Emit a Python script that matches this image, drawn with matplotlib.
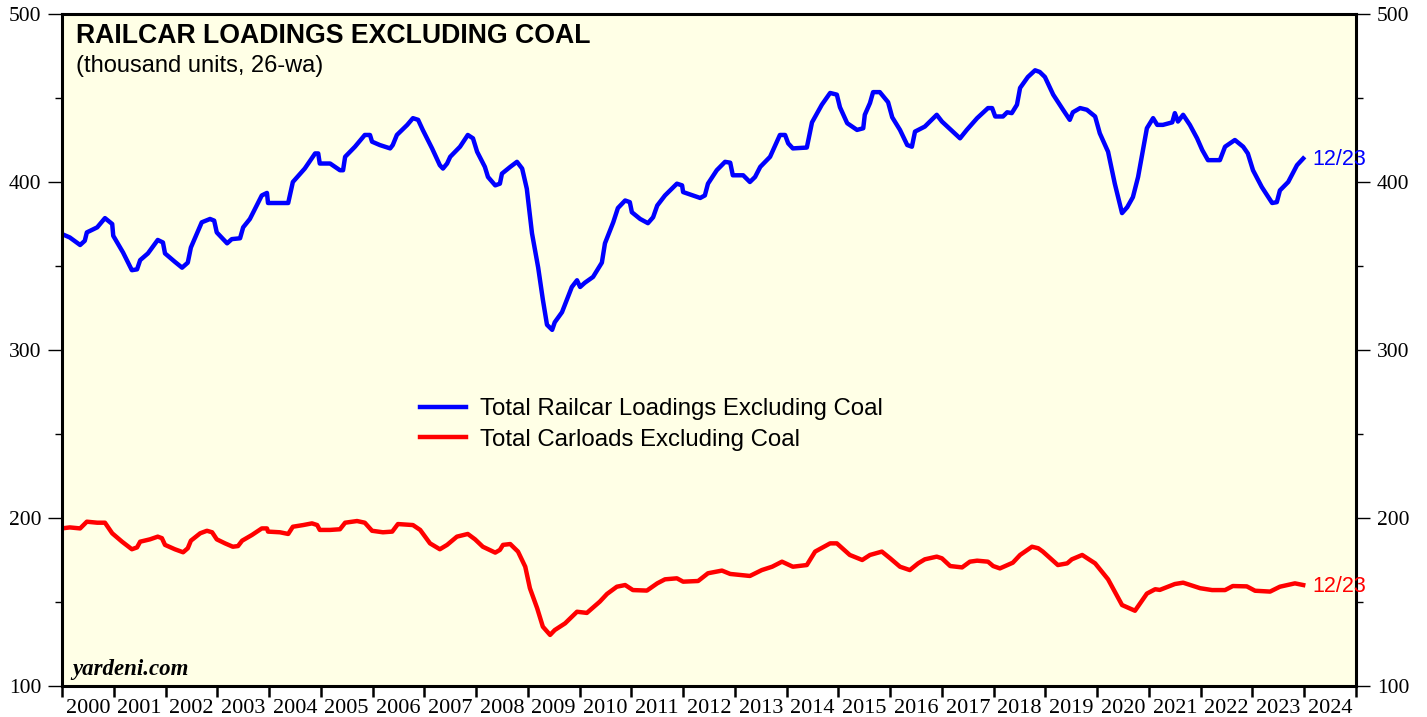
import matplotlib
matplotlib.use("Agg")
import matplotlib.pyplot as plt
from matplotlib.ticker import MultipleLocator, NullFormatter, FixedLocator, FixedFormatter

# Total railcar loadings excluding coal (thousand units, 26-wa)
anos_total = [
    2000.00, 2000.15, 2000.35, 2000.44, 2000.48, 2000.68, 2000.83, 2000.97, 2000.99,
    2001.18, 2001.35, 2001.45, 2001.51, 2001.66, 2001.85, 2001.95, 2001.99,
    2002.18, 2002.32, 2002.43, 2002.49, 2002.70, 2002.86, 2002.94, 2002.99,
    2003.19, 2003.28, 2003.44, 2003.50, 2003.63, 2003.86, 2003.96, 2003.98,
    2004.21, 2004.37, 2004.46, 2004.69, 2004.89, 2004.95, 2004.98,
    2005.18, 2005.37, 2005.43, 2005.47, 2005.66, 2005.85, 2005.95, 2005.99,
    2006.14, 2006.34, 2006.39, 2006.47, 2006.67, 2006.78, 2006.88, 2006.97,
    2007.15, 2007.30, 2007.36, 2007.44, 2007.50, 2007.69, 2007.84, 2007.94,
    2008.02, 2008.17, 2008.23, 2008.37, 2008.46, 2008.50, 2008.66, 2008.79, 2008.89, 2008.98,
    2009.08, 2009.20, 2009.29, 2009.37, 2009.47, 2009.52, 2009.66, 2009.85, 2009.95,
    2010.01, 2010.10, 2010.26, 2010.43, 2010.49, 2010.65, 2010.74, 2010.88, 2010.97,
    2011.01, 2011.17, 2011.32, 2011.42, 2011.50, 2011.65, 2011.88, 2011.98,
    2012.00, 2012.19, 2012.33, 2012.42, 2012.48, 2012.65, 2012.81, 2012.91, 2012.96,
    2013.16, 2013.29, 2013.39, 2013.49, 2013.68, 2013.87, 2013.97,
    2014.03, 2014.12, 2014.39, 2014.49, 2014.68, 2014.84, 2014.97,
    2015.03, 2015.17, 2015.36, 2015.48, 2015.51, 2015.61, 2015.67, 2015.80, 2015.96,
    2016.04, 2016.19, 2016.33, 2016.42, 2016.48, 2016.67, 2016.90,
    2017.00, 2017.35, 2017.48, 2017.68, 2017.89, 2017.97,
    2018.03, 2018.18, 2018.26, 2018.35, 2018.45, 2018.51, 2018.66, 2018.80, 2018.89, 2018.99,
    2019.15, 2019.34, 2019.47, 2019.53, 2019.67, 2019.80, 2019.96,
    2020.05, 2020.21, 2020.34, 2020.48, 2020.58, 2020.69, 2020.79, 2020.96,
    2021.08, 2021.16, 2021.27, 2021.45, 2021.50, 2021.56, 2021.66, 2021.79, 2021.93,
    2022.03, 2022.14, 2022.37, 2022.47, 2022.66, 2022.82, 2022.91,
    2023.01, 2023.18, 2023.38, 2023.47, 2023.53, 2023.69, 2023.86, 2023.98,
]
total_sem_carvao = [
    369, 367, 362.5, 365, 370, 373, 378.5, 375, 368,
    358, 347.5, 348, 353.5, 357.5, 365.5, 364, 357.5,
    352.5, 349, 352, 361, 376, 378, 377, 370,
    363.5, 366, 366.5, 373, 378, 392, 393.5, 387.5,
    387.5, 387.5, 400, 408, 417, 417, 411,
    411, 407, 407, 415, 421, 428, 428, 424,
    422, 420, 422, 428, 434, 438, 437, 431,
    420, 410, 408, 411, 415, 421, 428, 426,
    418, 409, 403, 398, 399, 405, 409, 412, 408, 396,
    369.5, 349, 330, 315, 312, 316.5, 322.5, 337.5, 341.5,
    337.5, 340, 343.5, 352, 363.5, 376, 384.5, 389, 388,
    382, 378, 375.5, 379, 386, 392, 399, 398,
    394, 392, 390.5, 392, 399, 407, 412, 411.5, 404,
    404, 400, 403, 409, 415, 428, 428,
    423, 420, 420.5, 435.5, 446, 453, 452,
    444.5, 435, 431, 432, 440, 447, 453.5, 453.5, 447.5,
    438.5, 431, 422, 421, 430, 433, 440,
    436, 426, 431, 438, 444, 444,
    439, 439, 441.5, 441, 446, 456, 462.5, 466.5, 465.5, 462.5,
    452, 443, 437, 441.5, 444, 443, 439,
    429, 418, 399, 381.5, 385, 391, 403, 432,
    438, 434, 434, 435.5, 441, 436, 440, 434, 426,
    419, 413, 413, 421, 425, 421, 417,
    407, 397, 387.5, 388, 395, 400, 410, 414,
]

# Total carloads excluding coal
anos_carloads = [
    2000.00, 2000.15, 2000.35, 2000.48, 2000.68, 2000.83, 2000.97,
    2001.16, 2001.35, 2001.45, 2001.51, 2001.70, 2001.85, 2001.93, 2001.99,
    2002.18, 2002.34, 2002.43, 2002.49, 2002.67, 2002.80, 2002.90, 2002.99,
    2003.15, 2003.30, 2003.40, 2003.48, 2003.67, 2003.86, 2003.96, 2003.98,
    2004.21, 2004.37, 2004.46, 2004.66, 2004.83, 2004.93, 2004.98,
    2005.18, 2005.37, 2005.47, 2005.70, 2005.85, 2005.99,
    2006.20, 2006.38, 2006.49, 2006.78, 2006.92,
    2007.11, 2007.30, 2007.44, 2007.63, 2007.84, 2007.98,
    2008.13, 2008.37, 2008.46, 2008.52, 2008.66, 2008.81, 2008.95,
    2009.04, 2009.18, 2009.29, 2009.43, 2009.52, 2009.72, 2009.95,
    2010.14, 2010.39, 2010.53, 2010.72, 2010.88,
    2011.03, 2011.30, 2011.50, 2011.65, 2011.88,
    2012.00, 2012.29, 2012.48, 2012.75, 2012.91,
    2013.29, 2013.52, 2013.72, 2013.91,
    2014.12, 2014.39, 2014.55, 2014.84, 2014.97,
    2015.22, 2015.46, 2015.61, 2015.84,
    2016.00, 2016.19, 2016.38, 2016.54, 2016.67, 2016.90,
    2017.00, 2017.16, 2017.39, 2017.54, 2017.68, 2017.89, 2017.99,
    2018.12, 2018.37, 2018.51, 2018.74, 2018.86, 2018.95,
    2019.24, 2019.42, 2019.51, 2019.71, 2019.96,
    2020.21, 2020.48, 2020.73, 2020.96,
    2021.12, 2021.21, 2021.50, 2021.66, 2021.99,
    2022.22, 2022.47, 2022.62, 2022.89,
    2023.05, 2023.34, 2023.53, 2023.82, 2023.98,
]
carloads_sem_carvao = [
    193.8, 194.4, 193.8, 197.8, 197.2, 197.2, 190.9,
    185.9, 181.4, 182.5, 185.9, 187.3, 188.9, 188, 184,
    181.4, 179.6, 182, 186.5, 190.9, 192.4, 191.5, 187.3,
    184.9, 182.9, 183.3, 186.5, 189.9, 193.8, 193.8, 191.9,
    191.5, 190.5, 194.8, 195.8, 196.8, 195.8, 192.9,
    192.9, 193.3, 197.2, 198.2, 197.2, 192.4,
    191.5, 191.9, 196.4, 195.8, 192.9,
    184.9, 181.4, 184, 188.9, 190.5, 187.3,
    182.9, 179.4, 181, 184, 184.5, 180, 171,
    158.2, 146.3, 135.3, 130.4, 133.3, 137.3, 144.2,
    143.5, 150.2, 154.8, 159.1, 160.1,
    157.1, 156.8, 161.1, 163.5, 164.1,
    162.1, 162.5, 167.1, 168.7, 166.7,
    165.5, 169, 171, 174,
    171, 172, 180, 184.9, 184.9,
    178, 175, 178, 180,
    176, 171, 169, 173, 175.4, 177,
    176, 171.4, 170.6, 174, 174.6, 174, 171.4,
    170, 173.4, 178, 182.9, 182, 180,
    172, 173, 175.4, 178, 173,
    163.5, 148.2, 144.8, 155,
    157.6, 157.2, 160.7, 161.5, 158.2,
    157.1, 157.1, 159.5, 159.3,
    156.7, 156.2, 159.1, 161.1, 160.1,
]

anos = list(range(2000, 2025))
rotulo_final = "12/23"

FUNDO = "#FFFFE6"
SANS = "Liberation Sans"
SERIF = "Liberation Serif"

fig = plt.figure(figsize=(14.27, 7.17), dpi=100)
ax = fig.add_axes([62 / 1427, 1 - 686 / 717, 1294 / 1427, 672 / 717])
ax.set_facecolor(FUNDO)

ax.plot(anos_total, total_sem_carvao, color="#0000FF", lw=3.2,
        label="Total Railcar Loadings Excluding Coal", solid_joinstyle="round")
ax.plot(anos_carloads, carloads_sem_carvao, color="#FF0000", lw=3.2,
        label="Total Carloads Excluding Coal", solid_joinstyle="round")

ax.set_xlim(2000, 2025)
ax.set_ylim(100, 500)

# eixo x: marcas nos anos, rótulos no meio do ano
ax.xaxis.set_major_locator(FixedLocator(anos + [2025]))
ax.xaxis.set_major_formatter(NullFormatter())
ax.xaxis.set_minor_locator(FixedLocator([a + 0.5 for a in anos]))
ax.xaxis.set_minor_formatter(FixedFormatter([str(a) for a in anos]))
ax.tick_params(axis="x", which="major", direction="out", length=8, width=1.8)
ax.tick_params(axis="x", which="minor", length=0, pad=9.5, labelsize=16)

# eixo y dos dois lados
ax.yaxis.set_major_locator(MultipleLocator(100))
ax.yaxis.set_minor_locator(MultipleLocator(50))
ax.tick_params(axis="y", which="both", direction="out", left=True, right=True,
               labelleft=True, labelright=True, width=1.0)
ax.tick_params(axis="y", which="major", length=10, pad=5, labelsize=15.5)
ax.tick_params(axis="y", which="minor", length=5)

for lab in ax.get_xticklabels(minor=True) + ax.get_yticklabels():
    lab.set_fontfamily(SERIF)

for s in ax.spines.values():
    s.set_linewidth(2.2)

ax.text(14 / 1294, 1 - 29 / 672, "RAILCAR LOADINGS EXCLUDING COAL", transform=ax.transAxes,
        fontsize=19.2, fontweight="bold", family=SANS, va="baseline")
ax.text(14 / 1294, 1 - 58 / 672, "(thousand units, 26-wa)", transform=ax.transAxes,
        fontsize=17, family=SANS, va="baseline")
ax.text(10 / 1294, 11 / 672, "yardeni.com", transform=ax.transAxes,
        fontsize=16.5, family=SERIF, fontweight="bold", style="italic", va="baseline")

leg = ax.legend(loc="upper left", bbox_to_anchor=(358 / 1294, 288 / 672), frameon=False,
                prop={"family": SANS, "size": 17.3}, handlelength=1.9, handletextpad=0.6,
                labelspacing=0.36, borderpad=0, borderaxespad=0)

# rótulos do último dado
ax.annotate(rotulo_final, (anos_total[-1], total_sem_carvao[-1]), xytext=(6.5, -1),
            textcoords="offset points", color="#0000FF", fontsize=15.5, family=SANS,
            va="center", ha="left", annotation_clip=False, zorder=10)
ax.annotate(rotulo_final, (anos_carloads[-1], carloads_sem_carvao[-1]), xytext=(6.5, -1),
            textcoords="offset points", color="#FF0000", fontsize=15.5, family=SANS,
            va="center", ha="left", annotation_clip=False, zorder=10)

fig.savefig("out.png", dpi=100)
